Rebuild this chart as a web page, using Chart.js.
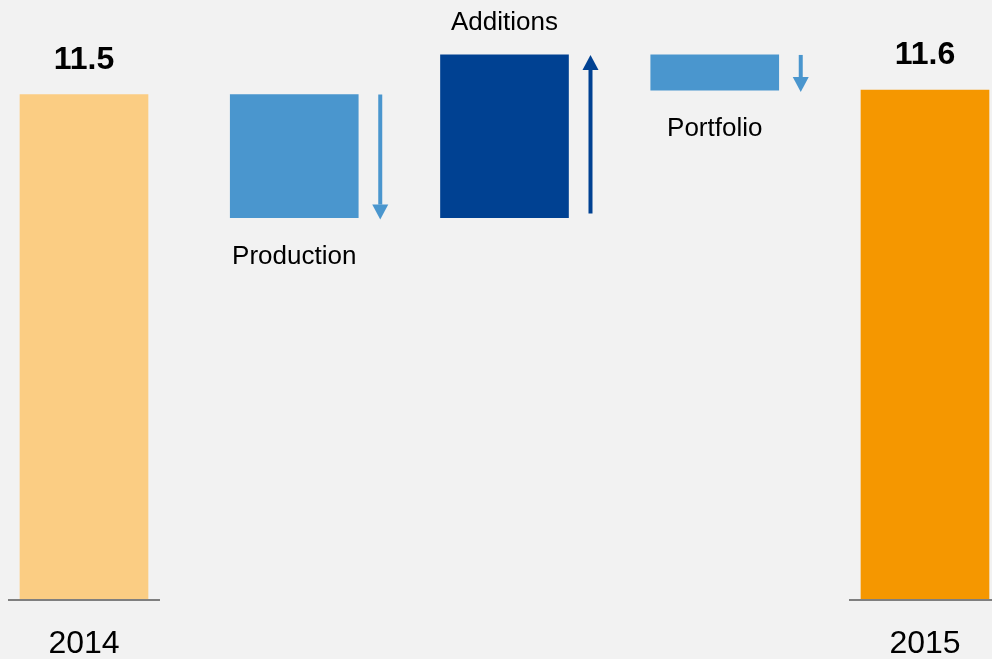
<!DOCTYPE html>
<html lang="en">
<head>
<meta charset="UTF-8">
<title>Reserves 2014 - 2015</title>
<script src="https://cdn.jsdelivr.net/npm/chart.js@4"></script>
<style>
    body { margin: 0; background: #f2f2f2; }
    #chart { display: block; }
</style>
</head>
<body>
<canvas id="chart" width="992" height="659"></canvas>
<script>
    // Opening level, changes during the year, closing level
    const categories = ['2014', 'Production', 'Additions', 'Portfolio', '2015'];
    const startValue = 11.5;
    const changes = [-2.8, 3.7, -0.8];
    const endValue = 11.6;
    const barColors = ['#fbcd83', '#4a96ce', '#004192', '#4a96ce', '#f59700'];

    // Floating bars [low, high] for the waterfall
    const bars = [{ x: 0, y: [0, startValue] }];
    let level = startValue;
    changes.forEach((c, i) => {
        const next = Math.round((level + c) * 10) / 10;
        bars.push({ x: i + 1, y: [Math.min(level, next), Math.max(level, next)] });
        level = next;
    });
    bars.push({ x: categories.length - 1, y: [0, endValue] });

    const FONT = '"Liberation Sans", Arial, sans-serif';

    function drawArrow(ctx, x, from, to, color) {
        const dir = to > from ? 1 : -1;
        const headLen = 15, headHalf = 8;
        ctx.strokeStyle = color;
        ctx.fillStyle = color;
        ctx.lineWidth = 4;
        ctx.beginPath();
        ctx.moveTo(x, from);
        ctx.lineTo(x, to - dir * headLen);
        ctx.stroke();
        ctx.beginPath();
        ctx.moveTo(x - headHalf, to - dir * headLen);
        ctx.lineTo(x + headHalf, to - dir * headLen);
        ctx.lineTo(x, to);
        ctx.closePath();
        ctx.fill();
    }

    const labelsPlugin = {
        id: 'waterfallLabels',
        afterDatasetsDraw(chart) {
            const ctx = chart.ctx;
            const meta = chart.getDatasetMeta(0);
            const yZero = chart.scales.y.getPixelForValue(0);
            const last = categories.length - 1;
            ctx.save();
            ctx.textAlign = 'center';
            ctx.textBaseline = 'alphabetic';
            meta.data.forEach((bar, i) => {
                const half = bar.width / 2;
                const top = Math.min(bar.y, bar.base);
                const bottom = Math.max(bar.y, bar.base);
                if (i === 0 || i === last) {
                    // short base line under the totals
                    ctx.strokeStyle = '#7f7f7f';
                    ctx.lineWidth = 2;
                    ctx.beginPath();
                    ctx.moveTo(bar.x - half - 12, yZero);
                    ctx.lineTo(bar.x + half + 12, yZero);
                    ctx.stroke();
                    ctx.fillStyle = '#000';
                    ctx.font = 'bold 32px ' + FONT;
                    ctx.fillText(bars[i].y[1].toFixed(1), bar.x, top - 26);
                    ctx.font = '32px ' + FONT;
                    ctx.fillText(categories[i], bar.x, yZero + 53);
                } else {
                    const delta = changes[i - 1];
                    const ax = bar.x + half + 22;
                    if (delta < 0) {
                        drawArrow(ctx, ax, top, bottom + 2, barColors[i]);
                    } else {
                        drawArrow(ctx, ax, bottom - 4, top, barColors[i]);
                    }
                    ctx.fillStyle = '#000';
                    ctx.font = '26px ' + FONT;
                    ctx.fillText(categories[i], bar.x, delta > 0 ? top - 25 : bottom + 46);
                }
            });
            ctx.restore();
        }
    };

    new Chart(document.getElementById('chart'), {
        type: 'bar',
        data: {
            datasets: [{
                data: bars,
                backgroundColor: barColors,
                barThickness: 128,
                borderWidth: 0,
                borderSkipped: false
            }]
        },
        options: {
            responsive: false,
            animation: false,
            layout: { padding: { top: 0, right: 0, bottom: 59, left: 0 } },
            plugins: {
                legend: { display: false },
                tooltip: { enabled: false }
            },
            scales: {
                x: { type: 'linear', offset: false, min: -0.3995, max: 4.3187, display: false },
                y: { min: 0, max: 13.65, display: false }
            }
        },
        plugins: [labelsPlugin]
    });
</script>
</body>
</html>
